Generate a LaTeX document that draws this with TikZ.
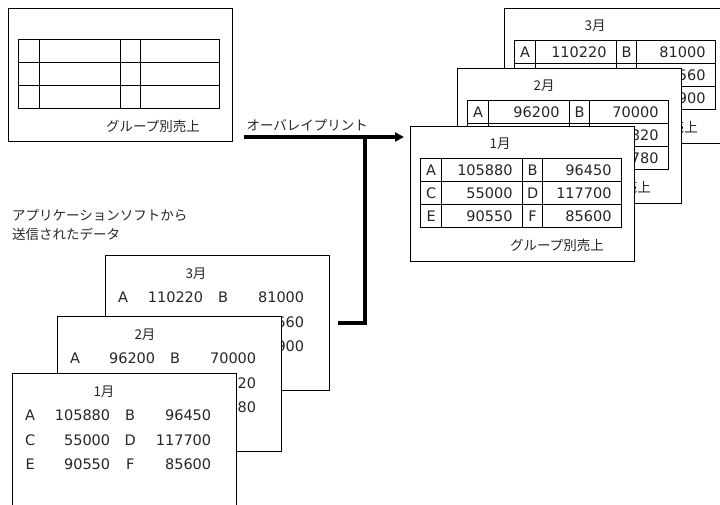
\documentclass[tikz,border=0pt]{standalone}
\usepackage{fontspec}
\setmainfont{Noto Sans CJK JP}
\newfontfamily\numfont{DejaVu Sans}
\usetikzlibrary{positioning,arrows.meta,matrix}

\begin{document}
\begin{tikzpicture}[
        x=1pt, y=-1pt,
        sheet/.style={draw, fill=white, line width=0.8pt, anchor=north west, inner sep=0pt, minimum width=224pt, minimum height=135pt},
        jp/.style={font=\fontsize{13.5pt}{19pt}\selectfont, text=black!85},
        ttl/.style={jp, anchor=center},
        bus/.style={line width=4.5pt},
        grid/.style={matrix of nodes, nodes in empty cells, anchor=north west, inner sep=0pt,
            column sep=-0.8pt, row sep=-0.8pt,
            nodes={draw, line width=0.8pt, minimum height=23pt, inner ysep=0pt, anchor=center,
                text=black!85, font=\numfont\fontsize{14.5pt}{17pt}\selectfont},
            column 1/.style={nodes={text width=21pt, inner xsep=0pt, align=center}},
            column 2/.style={nodes={text width=61pt, inner xsep=10pt, align=right}},
            column 3/.style={nodes={text width=20pt, inner xsep=0pt, align=center}},
            column 4/.style={nodes={text width=59pt, inner xsep=10pt, align=right}}},
        rows/.style={matrix of nodes, anchor=north west, inner sep=0pt,
            nodes={inner sep=0pt, minimum height=24.5pt, anchor=center,
                text=black!85, font=\numfont\fontsize{14.5pt}{17pt}\selectfont},
            column 1/.style={nodes={text width=20pt, align=center}},
            column 2/.style={nodes={text width=70pt, align=right}},
            column 3/.style={nodes={text width=40pt, align=center}},
            column 4/.style={nodes={text width=61pt, align=right}}}
    ]
    \useasboundingbox (0,0) rectangle (720,505);
    \clip (0,0) rectangle (720,505);

    % フォーム
    \node[sheet, minimum height=133pt] (form) at (8,8) {};
    \matrix[grid] (fm) at ([shift={(10,31)}]form.north west) {
        & & & \\
        & & & \\
        & & & \\
    };
    \node[jp] (fl) at ([shift={(145,118)}]form.north west) {グループ別売上};

    \node[jp, anchor=west, align=left, inner xsep=0pt] (src) at (12,225) {アプリケーションソフトから\\送信されたデータ};

    % 送信データ
    \node[sheet] (l3) at (105,255) {};
    \node[ttl] (l3t) at ([shift={(91,19)}]l3.north west) {3月};
    \matrix[rows] (l3m) at ([shift={(8,30)}]l3.north west) {
        A & 110220 & B & 81000 \\
          &        &   & 560 \\
          &        &   & 900 \\
    };
    \node[sheet] (l2) at (57,316) {};
    \node[ttl] (l2t) at ([shift={(88,19)}]l2.north west) {2月};
    \matrix[rows] (l2m) at ([shift={(8,30)}]l2.north west) {
        A & 96200 & B & 70000 \\
          &       &   & 820 \\
          &       &   & 780 \\
    };
    \node[sheet] (l1) at (12,373) {};
    \node[ttl] (l1t) at ([shift={(92,19)}]l1.north west) {1月};
    \matrix[rows] (l1m) at ([shift={(8,30)}]l1.north west) {
        A & 105880 & B & 96450 \\
        C & 55000  & D & 117700 \\
        E & 90550  & F & 85600 \\
    };

    % 印刷結果
    \node[sheet] (r3) at (504,8) {};
    \node[ttl] (r3t) at ([shift={(91,18)}]r3.north west) {3月};
    \matrix[grid] (r3m) at ([shift={(10,32)}]r3.north west) {
        A & 110220 & B & 81000 \\
          &        &   & 560 \\
          &        &   & 900 \\
    };
    \node[jp] (r3l) at ([shift={(147,119)}]r3.north west) {グループ別売上};
    \node[sheet] (r2) at (457,68) {};
    \node[ttl] (r2t) at ([shift={(87,18)}]r2.north west) {2月};
    \matrix[grid] (r2m) at ([shift={(10,32)}]r2.north west) {
        A & 96200 & B & 70000 \\
          &       &   & 820 \\
          &       &   & 780 \\
    };
    \node[jp] (r2l) at ([shift={(147,119)}]r2.north west) {グループ別売上};
    \node[sheet] (r1) at (410,126) {};
    \node[ttl] (r1t) at ([shift={(90,18)}]r1.north west) {1月};
    \matrix[grid] (r1m) at ([shift={(10,32)}]r1.north west) {
        A & 105880 & B & 96450 \\
        C & 55000  & D & 117700 \\
        E & 90550  & F & 85600 \\
    };
    \node[jp] (r1l) at ([shift={(147,119)}]r1.north west) {グループ別売上};

    \coordinate (bend) at (365,137);
    \draw[bus, -{Triangle[length=9pt,width=9pt]}, shorten <=11pt, shorten >=6pt] (form.east |- bend) -- (r1.west |- bend)
          node[jp, pos=0.42, above] (ovl) {オーバレイプリント};
    \draw[bus] ([xshift=8pt]l3.east) -| (bend);
\end{tikzpicture}
\end{document}
